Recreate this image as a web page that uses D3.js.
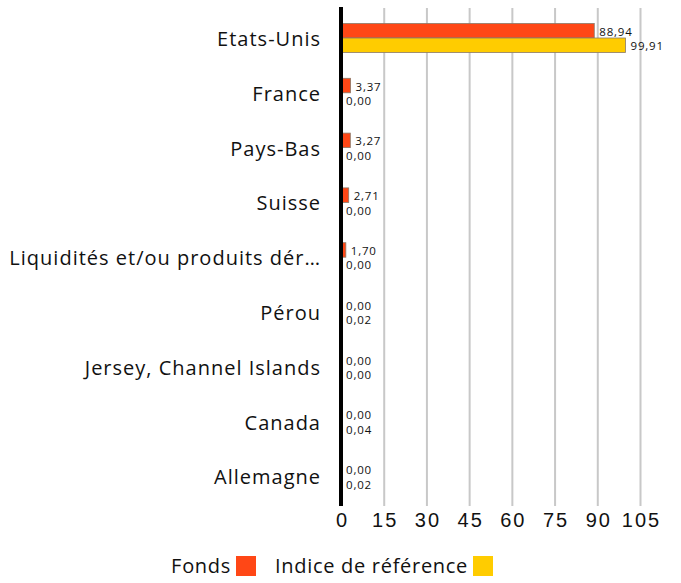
<!DOCTYPE html>
<html>
<head>
<meta charset="utf-8">
<script src="https://cdn.jsdelivr.net/npm/d3@7"></script>
<style>
  body { margin: 0; background: #fff; }
  svg { display: block; font-family: "Open Sans", sans-serif; }
</style>
</head>
<body>
<svg id="chart" width="681" height="583"></svg>
<script>
  const categories = [
    "Etats-Unis",
    "France",
    "Pays-Bas",
    "Suisse",
    "Liquidités et/ou produits dér…",
    "Pérou",
    "Jersey, Channel Islands",
    "Canada",
    "Allemagne"
  ];
  const fonds = [88.94, 3.37, 3.27, 2.71, 1.70, 0.00, 0.00, 0.00, 0.00];
  const indice = [99.91, 0.00, 0.00, 0.00, 0.00, 0.02, 0.00, 0.04, 0.02];
  const tickValues = [0, 15, 30, 45, 60, 75, 90, 105];
  const seriesNames = ["Fonds", "Indice de référence"];
  const seriesColors = ["#ff4716", "#ffcc00"];

  const svg = d3.select("#chart");
  const fmt = v => v.toFixed(2).replace(".", ",");

  const x = d3.scaleLinear().domain([0, 105]).range([341, 640]);
  const y = d3.scaleBand().domain(categories).range([10.6, 503.8]);
  const barH = 14.5;

  // grid + axis
  const axis = svg
    .append("g")
    .attr("transform", "translate(0,506)")
    .call(
      d3.axisBottom(x)
        .tickValues(tickValues)
        .tickSize(-498)
        .tickPadding(7)
        .tickFormat(d => d)
    );
  axis.select(".domain").remove();
  axis.selectAll("line").attr("stroke", "#c8c8c8").attr("stroke-width", 2);
  axis
    .selectAll("text")
    .attr("fill", "#111")
    .attr("dx", 1)
    .style("font-size", "20px")
    .style("letter-spacing", "2px");

  const rows = svg
    .selectAll(".row")
    .data(categories)
    .enter()
    .append("g")
    .attr("class", "row")
    .attr("transform", d => `translate(0,${y(d) + y.bandwidth() / 2})`);

  rows
    .append("text")
    .attr("x", 321)
    .attr("y", 1)
    .attr("dy", "0.35em")
    .attr("text-anchor", "end")
    .attr("fill", "#111")
    .style("font-size", "20px")
    .style("letter-spacing", "1px")
    .text(d => d);

  [fonds, indice].forEach((vals, s) => {
    rows
      .append("rect")
      .attr("x", x(0))
      .attr("y", s === 0 ? -barH : 0)
      .attr("width", (d, i) => Math.max(0, x(vals[i]) - x(0)))
      .attr("height", barH)
      .attr("fill", seriesColors[s])
      .attr("stroke", (d, i) => (vals[i] > 0.05 ? "#8a7a6a" : "none"))
      .attr("stroke-width", 0.8);
    rows
      .append("text")
      .attr("x", (d, i) => x(vals[i]) + 5)
      .attr("y", s === 0 ? -barH / 2 + 1 : barH / 2 + 1)
      .attr("dy", "0.35em")
      .attr("fill", "#111")
      .style("font-size", "11.5px")
      .style("letter-spacing", "0.8px")
      .text((d, i) => fmt(vals[i]));
  });

  // zero line
  svg
    .append("line")
    .attr("x1", x(0))
    .attr("x2", x(0))
    .attr("y1", 7)
    .attr("y2", 506)
    .attr("stroke", "#000")
    .attr("stroke-width", 4);

  // legend
  const legend = svg.append("g").attr("transform", "translate(0,566)");
  const legendItems = [
    { tx: 231, sx: 236 },
    { tx: 468, sx: 473 }
  ];
  seriesNames.forEach((name, i) => {
    legend
      .append("text")
      .attr("x", legendItems[i].tx)
      .attr("dy", "0.35em")
      .attr("text-anchor", "end")
      .attr("fill", "#111")
      .style("font-size", "20px")
      .style("letter-spacing", "0.7px")
      .text(name);
    legend
      .append("rect")
      .attr("x", legendItems[i].sx)
      .attr("y", -10)
      .attr("width", 20)
      .attr("height", 20)
      .attr("fill", seriesColors[i]);
  });
</script>
</body>
</html>
